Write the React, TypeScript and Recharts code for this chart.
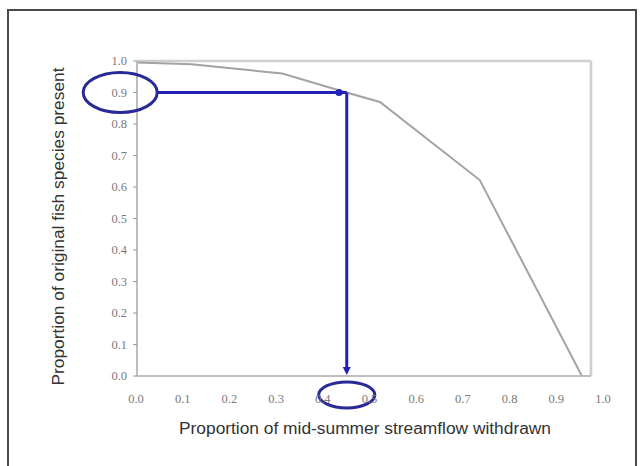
import { LineChart, Line, XAxis, YAxis, ReferenceLine, ReferenceDot } from "recharts";

// curve
const flowWithdrawn = [0, 0.12, 0.32, 0.45, 0.535, 0.755, 0.98];
const speciesPresent = [0.995, 0.99, 0.96, 0.905, 0.87, 0.622, 0];

const axisTicks = [0, 0.1, 0.2, 0.3, 0.4, 0.5, 0.6, 0.7, 0.8, 0.9, 1.0];

// annotation: read 0.9 across, then down to the x axis
const targetY = 0.9;
const curveHitX = 0.445;
const dropX = 0.462;
const hLineStartX = 0.044;
const yLabelRingX = -0.037;
const xLabelRingY = -0.06;

const data = flowWithdrawn.map((x, i) => ({ x, y: speciesPresent[i] }));

const BLUE = "#2222b8";
const RING = "#2a2a96";

const XTick = (props: any) => {
  const { x, y, payload } = props;
  const v = Number(payload.value);
  return (
    <text
      x={x - 1 + v * 13}
      y={y}
      dy={25}
      textAnchor="middle"
      fontFamily="Liberation Serif"
      fontSize={12.5}
      fill="#7a7a7a"
    >
      {v.toFixed(1)}
    </text>
  );
};

const YTitle = (props: any) => {
  const vb = props.viewBox;
  const cx = vb.x + 58;
  const cy = vb.y + vb.height / 2 + 8;
  return (
    <text
      x={cx}
      y={cy}
      transform={`rotate(-90, ${cx}, ${cy})`}
      textAnchor="middle"
      dominantBaseline="central"
      fontFamily="Liberation Sans"
      fontSize={16}
      textLength={318}
      lengthAdjust="spacingAndGlyphs"
      fill="#333"
    >
      Proportion of original fish species present
    </text>
  );
};

const XTitle = (props: any) => {
  const vb = props.viewBox;
  return (
    <text
      x={vb.x + vb.width / 2 + 1}
      y={vb.y + 58}
      textAnchor="middle"
      fontFamily="Liberation Sans"
      fontSize={16}
      textLength={372}
      lengthAdjust="spacingAndGlyphs"
      fill="#333"
    >
      Proportion of mid-summer streamflow withdrawn
    </text>
  );
};

const Ring = (rx: number, ry: number) => (props: any) =>
  (
    <ellipse
      cx={props.cx}
      cy={props.cy}
      rx={rx}
      ry={ry}
      fill="none"
      stroke={RING}
      strokeWidth={3}
    />
  );

const DropArrow = (props: any) => {
  const { x1, y1, x2, y2 } = props;
  return (
    <g>
      <line x1={x1} y1={y1} x2={x2} y2={y2 - 6} stroke={BLUE} strokeWidth={3} />
      <polygon
        points={`${x2 - 4},${y2 - 9} ${x2 + 4},${y2 - 9} ${x2},${y2 - 1}`}
        fill={BLUE}
      />
    </g>
  );
};

const App = () => {
  return (
    <div style={{ position: "absolute", left: 0, top: 0, width: 641, height: 466, background: "#fff" }}>
      <div
        style={{
          position: "absolute",
          left: 7,
          top: 9,
          width: 630,
          height: 470,
          border: "2px solid #4a4a4a",
          boxSizing: "border-box",
        }}
      />
      <LineChart
        width={641}
        height={466}
        data={data}
        margin={{ top: 61, right: 50, bottom: 60, left: 0 }}
        style={{ position: "absolute", left: 0, top: 0 }}
      >
        <XAxis
          type="number"
          dataKey="x"
          domain={[0, 1]}
          ticks={axisTicks}
          height={30}
          tickLine={false}
          tickSize={0}
          axisLine={{ stroke: "#bdbdbd", strokeWidth: 2 }}
          tick={<XTick />}
          label={<XTitle />}
        />
        <YAxis
          type="number"
          dataKey="y"
          domain={[0, 1]}
          ticks={axisTicks}
          width={137}
          tickSize={4}
          tickMargin={6}
          tickLine={{ stroke: "#9a9a9a" }}
          axisLine={{ stroke: "#bdbdbd", strokeWidth: 2 }}
          tickFormatter={(v: number) => v.toFixed(1)}
          tick={{ fontFamily: "Liberation Serif", fontSize: 12.5, fill: "#7a7a7a" }}
          label={<YTitle />}
        />
        <ReferenceLine y={1} stroke="#cfcfcf" strokeWidth={2.5} />
        <ReferenceLine x={1} stroke="#cfcfcf" strokeWidth={2.5} />
        <Line
          dataKey="y"
          stroke="#a3a3a3"
          strokeWidth={2}
          dot={false}
          isAnimationActive={false}
        />
        <ReferenceLine
          segment={[
            { x: hLineStartX, y: targetY },
            { x: dropX, y: targetY },
          ]}
          stroke={BLUE}
          strokeWidth={3}
          ifOverflow="visible"
        />
        <ReferenceLine
          segment={[
            { x: dropX, y: targetY },
            { x: dropX, y: 0 },
          ]}
          ifOverflow="visible"
          shape={DropArrow}
        />
        <ReferenceDot x={curveHitX} y={targetY} r={3.5} fill={BLUE} stroke="none" ifOverflow="visible" />
        <ReferenceDot x={yLabelRingX} y={targetY} ifOverflow="visible" shape={Ring(37, 20)} />
        <ReferenceDot x={dropX} y={xLabelRingY} ifOverflow="visible" shape={Ring(28, 13)} />
      </LineChart>
    </div>
  );
};

export default App;
